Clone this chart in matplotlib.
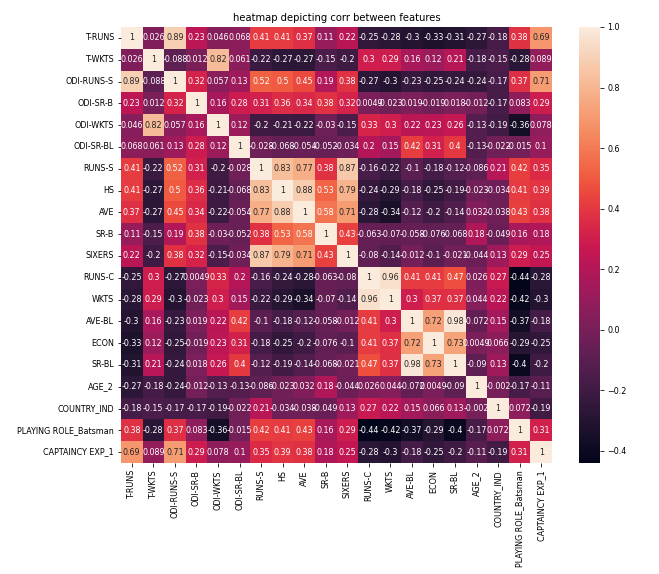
import numpy as np
import matplotlib
matplotlib.use("Agg")
import matplotlib.pyplot as plt
import seaborn as sns

features = ["T-RUNS", "T-WKTS", "ODI-RUNS-S", "ODI-SR-B", "ODI-WKTS", "ODI-SR-BL",
            "RUNS-S", "HS", "AVE", "SR-B", "SIXERS", "RUNS-C", "WKTS", "AVE-BL",
            "ECON", "SR-BL", "AGE_2", "COUNTRY_IND", "PLAYING ROLE_Batsman",
            "CAPTAINCY EXP_1"]

corr_rows = [
    [1, 0.026, 0.89, 0.23, 0.046, 0.068, 0.41, 0.41, 0.37, 0.11, 0.22, -0.25, -0.28, -0.3, -0.33, -0.31, -0.27, -0.18, 0.38, 0.69],
    [0.026, 1, -0.088, 0.012, 0.82, 0.061, -0.22, -0.27, -0.27, -0.15, -0.2, 0.3, 0.29, 0.16, 0.12, 0.21, -0.18, -0.15, -0.28, 0.089],
    [0.89, -0.088, 1, 0.32, 0.057, 0.13, 0.52, 0.5, 0.45, 0.19, 0.38, -0.27, -0.3, -0.23, -0.25, -0.24, -0.24, -0.17, 0.37, 0.71],
    [0.23, 0.012, 0.32, 1, 0.16, 0.28, 0.31, 0.36, 0.34, 0.38, 0.32, 0.0049, -0.023, 0.019, -0.019, 0.018, -0.012, -0.17, 0.083, 0.29],
    [0.046, 0.82, 0.057, 0.16, 1, 0.12, -0.2, -0.21, -0.22, -0.03, -0.15, 0.33, 0.3, 0.22, 0.23, 0.26, -0.13, -0.19, -0.36, 0.078],
    [0.068, 0.061, 0.13, 0.28, 0.12, 1, -0.028, -0.068, -0.054, -0.052, -0.034, 0.2, 0.15, 0.42, 0.31, 0.4, -0.13, -0.022, -0.015, 0.1],
    [0.41, -0.22, 0.52, 0.31, -0.2, -0.028, 1, 0.83, 0.77, 0.38, 0.87, -0.16, -0.22, -0.1, -0.18, -0.12, -0.086, 0.21, 0.42, 0.35],
    [0.41, -0.27, 0.5, 0.36, -0.21, -0.068, 0.83, 1, 0.88, 0.53, 0.79, -0.24, -0.29, -0.18, -0.25, -0.19, -0.023, -0.034, 0.41, 0.39],
    [0.37, -0.27, 0.45, 0.34, -0.22, -0.054, 0.77, 0.88, 1, 0.58, 0.71, -0.28, -0.34, -0.12, -0.2, -0.14, 0.032, -0.038, 0.43, 0.38],
    [0.11, -0.15, 0.19, 0.38, -0.03, -0.052, 0.38, 0.53, 0.58, 1, 0.43, -0.063, -0.07, -0.058, -0.076, -0.068, 0.18, -0.049, 0.16, 0.18],
    [0.22, -0.2, 0.38, 0.32, -0.15, -0.034, 0.87, 0.79, 0.71, 0.43, 1, -0.08, -0.14, -0.012, -0.1, -0.021, -0.044, 0.13, 0.29, 0.25],
    [-0.25, 0.3, -0.27, 0.0049, 0.33, 0.2, -0.16, -0.24, -0.28, -0.063, -0.08, 1, 0.96, 0.41, 0.41, 0.47, 0.026, 0.27, -0.44, -0.28],
    [-0.28, 0.29, -0.3, -0.023, 0.3, 0.15, -0.22, -0.29, -0.34, -0.07, -0.14, 0.96, 1, 0.3, 0.37, 0.37, 0.044, 0.22, -0.42, -0.3],
    [-0.3, 0.16, -0.23, 0.019, 0.22, 0.42, -0.1, -0.18, -0.12, -0.058, -0.012, 0.41, 0.3, 1, 0.72, 0.98, -0.072, 0.15, -0.37, -0.18],
    [-0.33, 0.12, -0.25, -0.019, 0.23, 0.31, -0.18, -0.25, -0.2, -0.076, -0.1, 0.41, 0.37, 0.72, 1, 0.73, 0.0049, 0.066, -0.29, -0.25],
    [-0.31, 0.21, -0.24, 0.018, 0.26, 0.4, -0.12, -0.19, -0.14, -0.068, -0.021, 0.47, 0.37, 0.98, 0.73, 1, -0.09, 0.13, -0.4, -0.2],
    [-0.27, -0.18, -0.24, -0.012, -0.13, -0.13, -0.086, -0.023, 0.032, 0.18, -0.044, 0.026, 0.044, -0.072, 0.0049, -0.09, 1, -0.002, -0.17, -0.11],
    [-0.18, -0.15, -0.17, -0.17, -0.19, -0.022, 0.21, -0.034, -0.038, -0.049, 0.13, 0.27, 0.22, 0.15, 0.066, 0.13, -0.002, 1, 0.072, -0.19],
    [0.38, -0.28, 0.37, 0.083, -0.36, -0.015, 0.42, 0.41, 0.43, 0.16, 0.29, -0.44, -0.42, -0.37, -0.29, -0.4, -0.17, 0.072, 1, 0.31],
    [0.69, 0.089, 0.71, 0.29, 0.078, 0.1, 0.35, 0.39, 0.38, 0.18, 0.25, -0.28, -0.3, -0.18, -0.25, -0.2, -0.11, -0.19, 0.31, 1],
]

corr = np.array(corr_rows)

plt.rcParams["font.size"] = 8

W, H = 659, 574
fig = plt.figure(figsize=(W / 72, H / 72), dpi=72)
ax = fig.add_axes([121 / W, 1 - 463 / H, 431 / W, 436 / H])
cax = fig.add_axes([579 / W, 1 - 463 / H, 21 / W, 436 / H])

sns.heatmap(corr, annot=True, ax=ax, cbar_ax=cax,
            xticklabels=features, yticklabels=features)
ax.set_title("heatmap depicting corr between features", fontsize=10)

fig.savefig("out.png", dpi=72)
